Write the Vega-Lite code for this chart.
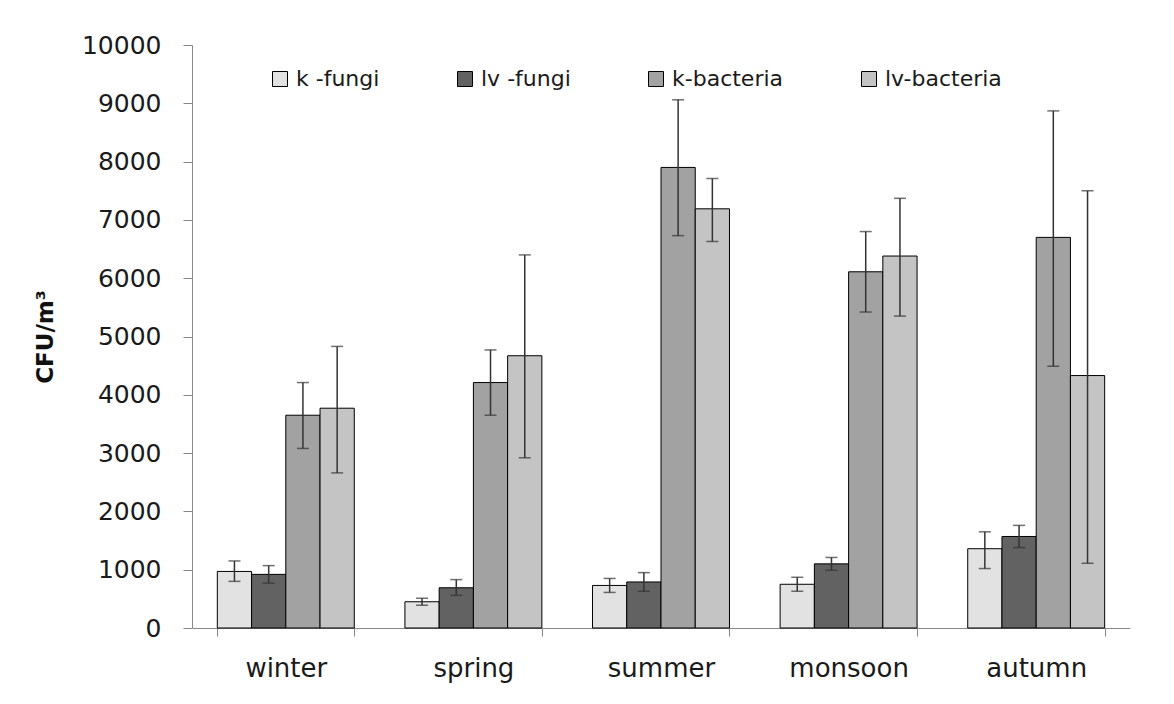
{
  "$schema": "https://vega.github.io/schema/vega-lite/v6.json",
  "width": 938,
  "height": 583,
  "autosize": "none",
  "padding": {"left": 192, "top": 45, "right": 44, "bottom": 76},
  "background": "white",
  "config": {"view": {"stroke": null}, "font": "DejaVu Sans"},
  "data": {
    "values": [
      {"season": "winter", "series": "k -fungi", "value": 970, "lo": 800, "hi": 1150},
      {"season": "winter", "series": "lv -fungi", "value": 920, "lo": 770, "hi": 1070},
      {"season": "winter", "series": "k-bacteria", "value": 3650, "lo": 3080, "hi": 4210},
      {"season": "winter", "series": "lv-bacteria", "value": 3770, "lo": 2660, "hi": 4830},
      {"season": "spring", "series": "k -fungi", "value": 450, "lo": 390, "hi": 510},
      {"season": "spring", "series": "lv -fungi", "value": 690, "lo": 560, "hi": 830},
      {"season": "spring", "series": "k-bacteria", "value": 4210, "lo": 3650, "hi": 4770},
      {"season": "spring", "series": "lv-bacteria", "value": 4670, "lo": 2920, "hi": 6400},
      {"season": "summer", "series": "k -fungi", "value": 730, "lo": 610, "hi": 850},
      {"season": "summer", "series": "lv -fungi", "value": 790, "lo": 630, "hi": 950},
      {"season": "summer", "series": "k-bacteria", "value": 7900, "lo": 6730, "hi": 9060},
      {"season": "summer", "series": "lv-bacteria", "value": 7190, "lo": 6630, "hi": 7710},
      {"season": "monsoon", "series": "k -fungi", "value": 750, "lo": 630, "hi": 870},
      {"season": "monsoon", "series": "lv -fungi", "value": 1100, "lo": 990, "hi": 1210},
      {"season": "monsoon", "series": "k-bacteria", "value": 6110, "lo": 5420, "hi": 6800},
      {"season": "monsoon", "series": "lv-bacteria", "value": 6380, "lo": 5350, "hi": 7370},
      {"season": "autumn", "series": "k -fungi", "value": 1360, "lo": 1020, "hi": 1650},
      {"season": "autumn", "series": "lv -fungi", "value": 1570, "lo": 1380, "hi": 1760},
      {"season": "autumn", "series": "k-bacteria", "value": 6700, "lo": 4490, "hi": 8870},
      {"season": "autumn", "series": "lv-bacteria", "value": 4330, "lo": 1110, "hi": 7500}
    ]
  },
  "encoding": {
    "x": {
      "field": "season",
      "type": "nominal",
      "sort": ["winter", "spring", "summer", "monsoon", "autumn"],
      "scale": {"paddingInner": 0.27, "paddingOuter": 0.135},
      "axis": {
        "title": null,
        "labelFontSize": 26,
        "labelColor": "#1a1a1a",
        "labelAngle": 0,
        "tickBand": "extent",
        "tickSize": 8,
        "domainColor": "#888",
        "tickColor": "#888",
        "labelPadding": 19
      }
    },
    "xOffset": {
      "field": "series",
      "sort": ["k -fungi", "lv -fungi", "k-bacteria", "lv-bacteria"],
      "scale": {"paddingInner": 0, "paddingOuter": 0}
    }
  },
  "layer": [
    {
      "mark": {"type": "bar", "stroke": "black", "strokeWidth": 1},
      "encoding": {
        "y": {
          "field": "value",
          "type": "quantitative",
          "title": "CFU/m³",
          "scale": {"domain": [0, 10000], "nice": false},
          "axis": {
            "values": [0, 1000, 2000, 3000, 4000, 5000, 6000, 7000, 8000, 9000, 10000],
            "format": "d",
            "grid": false,
            "labelFontSize": 25,
            "labelColor": "#1a1a1a",
            "tickSize": 9,
            "labelPadding": 22,
            "titleFontSize": 23,
            "titleFontWeight": "bold",
            "titleColor": "#111",
            "titlePadding": 24,
            "domainColor": "#888",
            "tickColor": "#888"
          }
        },
        "fill": {
          "field": "series",
          "type": "nominal",
          "scale": {
            "domain": ["k -fungi", "lv -fungi", "k-bacteria", "lv-bacteria"],
            "range": ["#e2e2e2", "#626262", "#a2a2a2", "#c4c4c4"]
          },
          "legend": {
            "orient": "none",
            "legendX": 77,
            "legendY": 23,
            "direction": "horizontal",
            "title": null,
            "symbolType": "square",
            "symbolSize": 225,
            "symbolStrokeColor": "black",
            "symbolStrokeWidth": 1,
            "labelFontSize": 22,
            "labelColor": "#1a1a1a",
            "labelOffset": 5,
            "columnPadding": 74
          }
        }
      }
    },
    {
      "mark": {"type": "rule", "color": "#333", "strokeWidth": 1.5},
      "encoding": {
        "y": {"field": "lo", "type": "quantitative", "title": "CFU/m³"},
        "y2": {"field": "hi"}
      }
    },
    {
      "mark": {"type": "tick", "orient": "horizontal", "size": 12, "thickness": 1.5, "color": "#333"},
      "encoding": {"y": {"field": "lo", "type": "quantitative", "title": "CFU/m³"}}
    },
    {
      "mark": {"type": "tick", "orient": "horizontal", "size": 12, "thickness": 1.5, "color": "#333"},
      "encoding": {"y": {"field": "hi", "type": "quantitative", "title": "CFU/m³"}}
    }
  ]
}
